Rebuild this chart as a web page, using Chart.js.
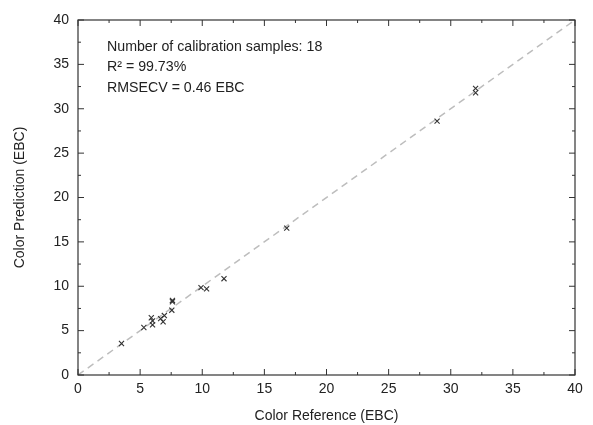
<!DOCTYPE html>
<html>
<head>
<meta charset="utf-8">
<script src="https://cdn.jsdelivr.net/npm/chart.js@4/dist/chart.umd.min.js"></script>
<style>
html,body{margin:0;padding:0;background:#fff;}
#wrap{width:593px;height:425px;position:relative;}
</style>
</head>
<body>
<div id="wrap"><canvas id="c" width="593" height="425"></canvas></div>
<script>
// Data
const referenceEBC = [3.5, 5.3, 5.9, 6.0, 6.65, 6.85, 6.95, 7.55, 7.6, 7.6, 9.9, 10.35, 11.75, 16.8, 28.9, 32.0, 32.0, 6.0];
const predictionEBC = [3.55, 5.35, 6.45, 5.65, 6.35, 6.0, 6.7, 7.3, 8.25, 8.4, 9.85, 9.7, 10.85, 16.55, 28.6, 31.8, 32.3, 6.1];
const identityLine = [0, 40];
const xTicks = [0, 5, 10, 15, 20, 25, 30, 35, 40];
const yTicks = [0, 5, 10, 15, 20, 25, 30, 35, 40];
const annotationLines = ["Number of calibration samples: 18", "R\u00B2 = 99.73%", "RMSECV = 0.46 EBC"];
const xTitle = "Color Reference (EBC)";
const yTitle = "Color Prediction (EBC)";

const FONT = "'Liberation Sans', Arial, sans-serif";
const scatterData = referenceEBC.map((x, i) => ({x: x, y: predictionEBC[i]}));
const lineData = identityLine.map(v => ({x: v, y: v}));

const framePlugin = {
  id: 'frame',
  afterDatasetsDraw(chart) {
    const ctx = chart.ctx, a = chart.chartArea;
    const xs = chart.scales.x, ys = chart.scales.y;
    ctx.save();
    ctx.strokeStyle = '#333';
    ctx.lineWidth = 1.2;
    ctx.strokeRect(a.left, a.top, a.right - a.left, a.bottom - a.top);
    ctx.lineWidth = 1;
    for (let v = 0; v <= 40; v += 2.5) {
      const major = (v % 5 === 0);
      const len = major ? 6 : 3;
      const px = xs.getPixelForValue(v);
      const py = ys.getPixelForValue(v);
      ctx.beginPath();
      ctx.moveTo(px, a.bottom); ctx.lineTo(px, a.bottom - len);
      ctx.moveTo(px, a.top); ctx.lineTo(px, a.top + len);
      ctx.moveTo(a.left, py); ctx.lineTo(a.left + len, py);
      ctx.moveTo(a.right, py); ctx.lineTo(a.right - len, py);
      ctx.stroke();
    }
    ctx.fillStyle = '#222';
    ctx.font = '14.2px ' + FONT;
    ctx.textBaseline = 'middle';
    ctx.textAlign = 'left';
    annotationLines.forEach((t, i) => {
      ctx.fillText(t, a.left + 29, a.top + 27 + i * 20.5);
    });
    ctx.restore();
  }
};

new Chart(document.getElementById('c'), {
  type: 'scatter',
  data: {
    datasets: [
      {
        type: 'line',
        data: lineData,
        borderColor: '#bdbdbd',
        borderWidth: 1.5,
        borderDash: [7, 5],
        pointRadius: 0,
        fill: false,
        order: 2
      },
      {
        data: scatterData,
        pointStyle: 'crossRot',
        pointRadius: 3.6,
        borderColor: '#333',
        backgroundColor: '#333',
        pointBorderWidth: 1.1,
        order: 1
      }
    ]
  },
  options: {
    responsive: false,
    animation: false,
    layout: {padding: {left: 0, right: 18, top: 20, bottom: 0}},
    plugins: {legend: {display: false}, tooltip: {enabled: false}},
    scales: {
      x: {
        type: 'linear', min: 0, max: 40,
        afterBuildTicks: s => { s.ticks = xTicks.map(v => ({value: v})); },
        afterFit: s => { s.height = 50; },
        grid: {display: false, drawTicks: false},
        border: {display: false},
        ticks: {color: '#222', font: {family: FONT, size: 14}, padding: 6, maxRotation: 0},
        title: {display: true, text: xTitle, color: '#222', font: {family: FONT, size: 14}, padding: {top: 3, bottom: 0}}
      },
      y: {
        type: 'linear', min: 0, max: 40,
        afterBuildTicks: s => { s.ticks = yTicks.map(v => ({value: v})); },
        afterFit: s => { s.width = 78; },
        grid: {display: false, drawTicks: false},
        border: {display: false},
        ticks: {color: '#222', font: {family: FONT, size: 14}, padding: 9},
        title: {display: true, text: yTitle, color: '#222', font: {family: FONT, size: 14}, padding: {top: 12, bottom: 4}}
      }
    }
  },
  plugins: [framePlugin]
});
</script>
</body>
</html>
